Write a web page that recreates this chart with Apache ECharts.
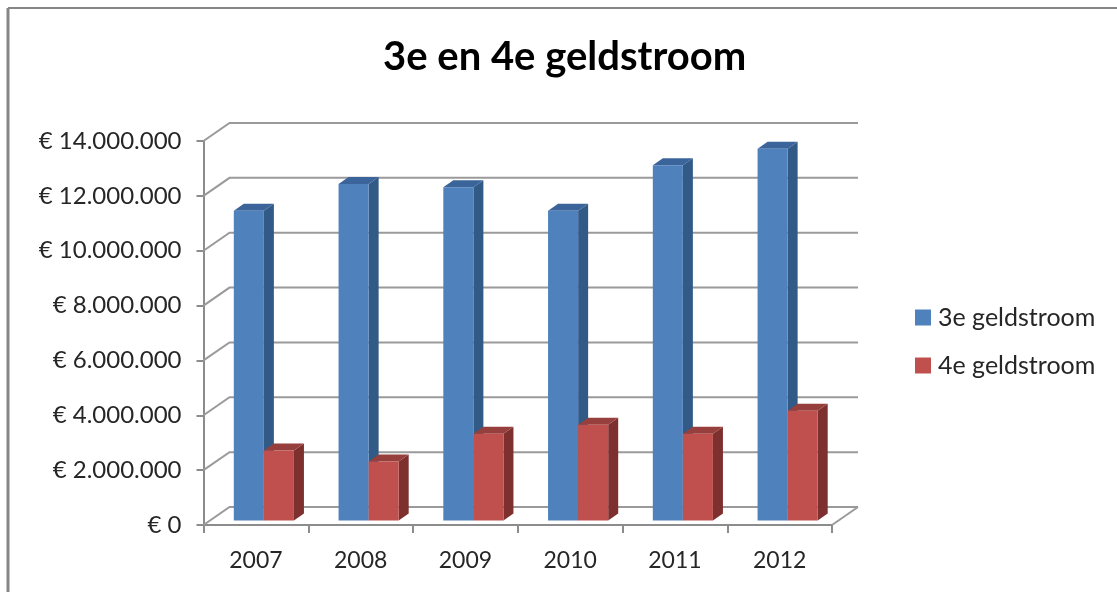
<!DOCTYPE html>
<html>
<head>
<meta charset="utf-8">
<title>3e en 4e geldstroom</title>
<script src="https://cdn.jsdelivr.net/npm/echarts@6/dist/echarts.min.js"></script>
<style>
html, body { margin: 0; padding: 0; background: #fff; }
#chart { width: 1117px; height: 592px; }
</style>
</head>
<body>
<div id="chart"></div>
<script>
const categories = ['2007', '2008', '2009', '2010', '2011', '2012'];
const series3e = [11290000, 12270000, 12150000, 11290000, 12950000, 13550000];
const series4e = [2550000, 2150000, 3160000, 3490000, 3160000, 4000000];
const yTicks = [0, 2000000, 4000000, 6000000, 8000000, 10000000, 12000000, 14000000];

// depth of the fake 3d wall and of the bars
const wallDx = 26, wallDy = -18;
const barDx = 10, barDy = -7;
const barShiftX = 8, barShiftY = -4.5;
const wallColor = '#9a9a9a';
const axisColor = '#8c8c8c';

function euro(v) {
    return '€ ' + String(v).replace(/\B(?=(\d{3})+$)/g, '.');
}

function renderWall(params, api) {
    const cs = params.coordSys;
    const y = api.coord([0, api.value(1)])[1];
    const x0 = cs.x, x1 = cs.x + cs.width;
    const style = { fill: 'none', stroke: wallColor, lineWidth: 2 };
    const children = [{
        type: 'polyline',
        shape: { points: [[x0, y], [x0 + wallDx, y + wallDy], [x1 + wallDx, y + wallDy]] },
        style: style
    }];
    if (api.value(1) === 0) {
        children.push({
            type: 'line',
            shape: { x1: x1, y1: y, x2: x1 + wallDx, y2: y + wallDy },
            style: style
        });
    }
    return { type: 'group', children: children };
}

function barRenderer(side, front, top, dark) {
    return function (params, api) {
        const p = api.coord([api.value(0), api.value(1)]);
        const base = api.coord([api.value(0), 0]);
        const w = api.size([1, 0])[0] * 0.287;
        const xl = p[0] + barShiftX + (side < 0 ? -w : 0);
        const xr = xl + w;
        const yt = p[1] + barShiftY;
        const yb = base[1] + barShiftY;
        return {
            type: 'group',
            children: [
                { type: 'polygon', shape: { points: [[xr, yt], [xr + barDx, yt + barDy], [xr + barDx, yb + barDy], [xr, yb]] }, style: { fill: dark } },
                { type: 'polygon', shape: { points: [[xl, yt], [xl + barDx, yt + barDy], [xr + barDx, yt + barDy], [xr, yt]] }, style: { fill: top } },
                { type: 'rect', shape: { x: xl, y: yt, width: w, height: yb - yt }, style: { fill: front } }
            ]
        };
    };
}

const chart = echarts.init(document.getElementById('chart'), null, { renderer: 'canvas' });
chart.setOption({
    animation: false,
    backgroundColor: '#fff',
    textStyle: { fontFamily: 'Lato' },
    title: {
        text: '3e en 4e geldstroom',
        left: 378,
        top: 32,
        textStyle: { fontFamily: 'Lato', fontSize: 40, fontWeight: 'bold', color: '#000' }
    },
    legend: {
        orient: 'vertical',
        left: 915,
        top: 305,
        padding: 0,
        itemWidth: 16,
        itemHeight: 16,
        itemGap: 23,
        icon: 'rect',
        data: ['3e geldstroom', '4e geldstroom'],
        textStyle: { fontFamily: 'Lato', fontSize: 25, color: '#262626', padding: [0, 0, 0, 2] }
    },
    grid: { left: 203.5, right: 285, top: 141, bottom: 67 },
    xAxis: {
        type: 'category',
        data: categories,
        axisLine: { lineStyle: { color: axisColor, width: 2 } },
        axisTick: { show: true, alignWithLabel: false, length: 8, lineStyle: { color: axisColor, width: 2 } },
        axisLabel: { fontFamily: 'Lato', fontSize: 23, color: '#262626', margin: 24 }
    },
    yAxis: {
        type: 'value',
        min: 0,
        max: 14000000,
        interval: 2000000,
        splitLine: { show: false },
        axisLine: { show: true, lineStyle: { color: axisColor, width: 2 } },
        axisTick: { show: true, length: 7, lineStyle: { color: axisColor, width: 2 } },
        axisLabel: { fontFamily: 'Lato', fontSize: 24, color: '#262626', margin: 22, padding: [3, 0, 0, 0], formatter: euro }
    },
    graphic: [
        { type: 'line', silent: true, shape: { x1: 8, y1: 8, x2: 1117, y2: 8 }, style: { stroke: '#868686', lineWidth: 2 } },
        { type: 'line', silent: true, shape: { x1: 8, y1: 8, x2: 8, y2: 592 }, style: { stroke: '#868686', lineWidth: 3 } }
    ],
    series: [
        {
            name: 'wall',
            type: 'custom',
            silent: true,
            clip: false,
            z: 1,
            renderItem: renderWall,
            encode: { x: 0, y: 1 },
            data: yTicks.map(function (v) { return [0, v]; })
        },
        {
            name: '3e geldstroom',
            type: 'custom',
            clip: false,
            z: 3,
            itemStyle: { color: '#4f81bd' },
            renderItem: barRenderer(-1, '#4f81bd', '#3b659a', '#315a87'),
            encode: { x: 0, y: 1 },
            data: series3e.map(function (v, i) { return [i, v]; })
        },
        {
            name: '4e geldstroom',
            type: 'custom',
            clip: false,
            z: 4,
            itemStyle: { color: '#c0504d' },
            renderItem: barRenderer(1, '#c0504d', '#963f3c', '#7d302e'),
            encode: { x: 0, y: 1 },
            data: series4e.map(function (v, i) { return [i, v]; })
        }
    ]
});
</script>
</body>
</html>
